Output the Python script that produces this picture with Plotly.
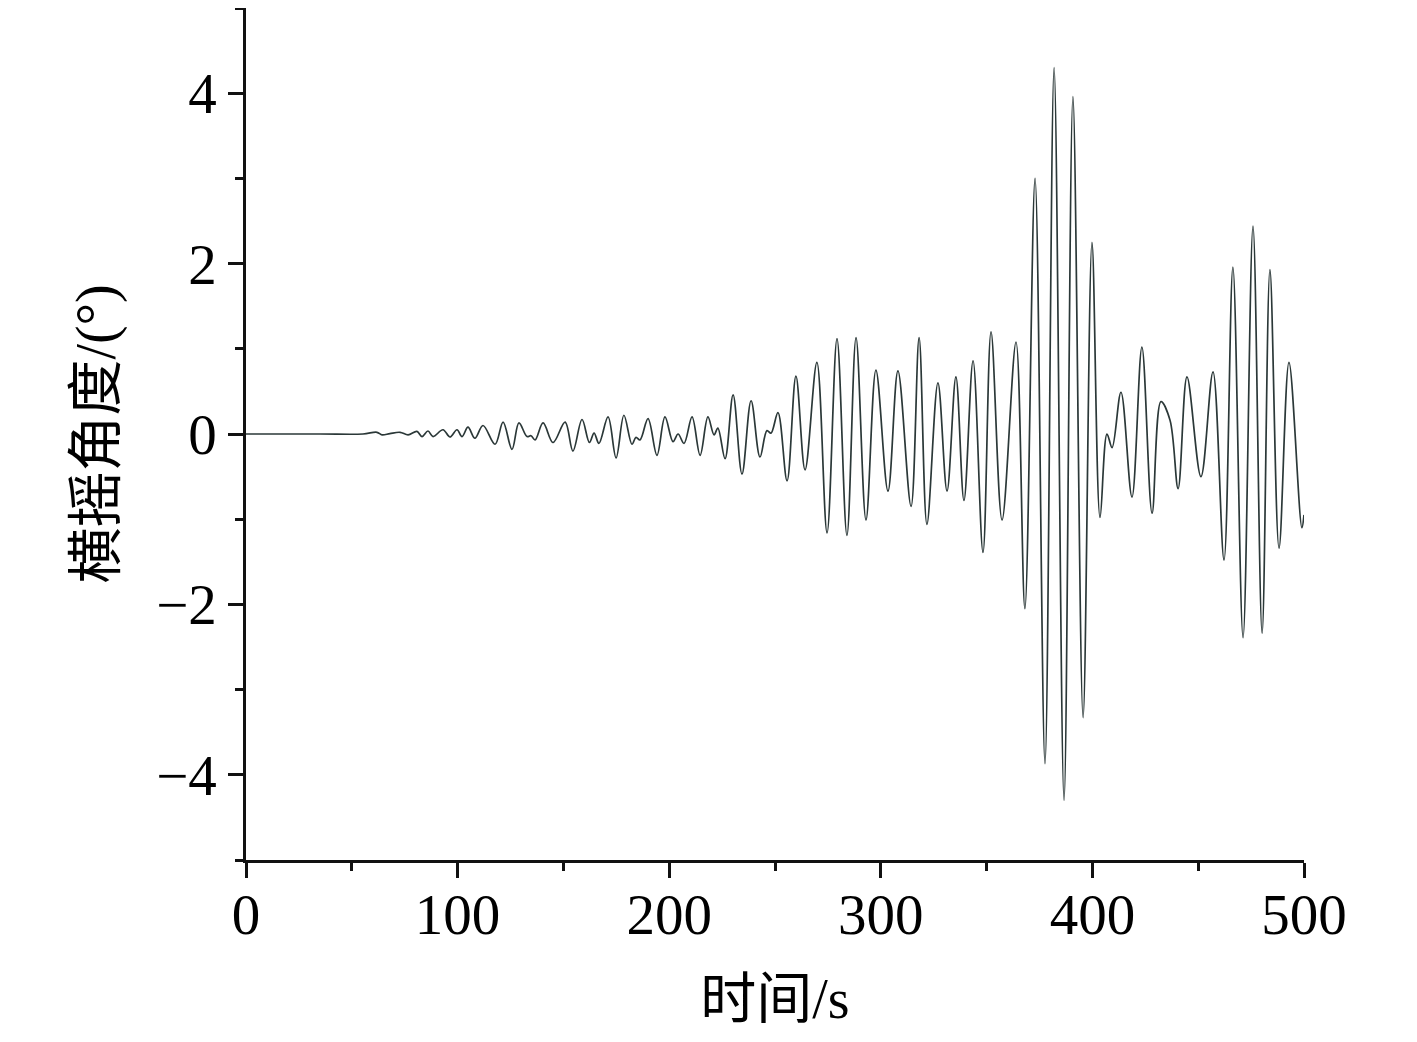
import plotly.graph_objects as go

# extrema of the roll-angle record
time_s = [
    0, 35, 55.3, 61.9, 64.3, 68, 72.8, 76.6, 80.8, 83.2, 86, 88.4, 93.1, 96.4,
    99.7, 102.1, 104.9, 108.2, 112, 117.7, 121.5, 125.7, 129, 132.8, 134.7,
    136.6, 140.4, 145.1, 150.8, 154.5, 158.8, 162.3, 164.5, 166.8, 171.1,
    174.9, 178.6, 182.4, 184.3, 186.2, 190, 194.2, 198, 201.8, 204.2, 207,
    210.8, 214.6, 218.3, 221.2, 223, 226.4, 230.2, 234.4, 238.7, 242.9,
    246.2, 248.1, 251.4, 255.7, 259.9, 264.2, 269.8, 274.6, 279.3, 284,
    288.3, 293, 297.7, 303.4, 308.1, 314.3, 318.1, 321.8, 327, 331.3, 335.5,
    339.3, 343.6, 348.3, 352.1, 357.3, 363.9, 368.1, 372.9, 377.6, 381.9,
    386.6, 390.8, 395.6, 399.8, 403.6, 406.9, 409.3, 413.5, 418.7, 423.4,
    428.2, 432.4, 436.7, 440.5, 444.7, 451.3, 457, 462.2, 466.4, 471.2,
    475.9, 480.2, 483.9, 488.2, 492.9, 499, 500,
]
roll_deg = [
    0, 0, 0, 0.02, -0.01, 0.005, 0.02, -0.01, 0.03, -0.03, 0.035, -0.03, 0.05,
    -0.035, 0.05, -0.03, 0.08, -0.05, 0.1, -0.12, 0.14, -0.18, 0.13, -0.03,
    -0.02, -0.07, 0.13, -0.1, 0.14, -0.2, 0.17, -0.1, 0.01, -0.11, 0.2,
    -0.28, 0.22, -0.12, -0.04, -0.07, 0.18, -0.25, 0.2, -0.09, 0.0, -0.11,
    0.2, -0.25, 0.2, -0.01, 0.07, -0.29, 0.46, -0.47, 0.39, -0.27,
    0.04, 0.01, 0.25, -0.55, 0.68, -0.42, 0.84, -1.16, 1.12, -1.19,
    1.13, -1.01, 0.75, -0.67, 0.74, -0.85, 1.13, -1.06, 0.6, -0.67, 0.67,
    -0.78, 0.86, -1.39, 1.2, -1.01, 1.08, -2.05, 3.0, -3.87, 4.3,
    -4.3, 3.96, -3.33, 2.25, -0.98, 0.0, -0.16, 0.49, -0.74, 1.02,
    -0.93, 0.38, 0.16, -0.64, 0.67, -0.5, 0.73, -1.48, 1.96, -2.39,
    2.44, -2.34, 1.93, -1.34, 0.84, -1.1, -0.95,
]

font_family = "Liberation Serif, Times New Roman, Noto Sans CJK SC"
axis_color = "#111111"

fig = go.Figure()
fig.add_trace(go.Scatter(
    x=time_s,
    y=roll_deg,
    mode="lines",
    line=dict(color="#2b3838", width=1.7, shape="spline", smoothing=1.0),
    showlegend=False,
))

fig.update_layout(
    width=1409,
    height=1034,
    margin=dict(l=238, r=113, t=0, b=182),
    paper_bgcolor="white",
    plot_bgcolor="white",
    font=dict(family=font_family, size=57, color="#000000"),
)

fig.update_xaxes(
    range=[0, 500],
    dtick=100,
    showgrid=False,
    zeroline=False,
    showline=True,
    linecolor=axis_color,
    linewidth=2.5,
    ticks="outside",
    ticklen=15,
    tickwidth=2.5,
    tickcolor=axis_color,
    ticklabelstandoff=-12,
    minor=dict(dtick=50, ticks="outside", ticklen=8, tickwidth=2.5, tickcolor=axis_color),
    title=dict(text="时间/s", font=dict(size=56), standoff=34),
)

fig.update_yaxes(
    range=[-5, 5],
    dtick=2,
    showgrid=False,
    zeroline=False,
    showline=True,
    linecolor=axis_color,
    linewidth=2.5,
    ticks="outside",
    ticklen=15,
    tickwidth=2.5,
    tickcolor=axis_color,
    minor=dict(dtick=1, ticks="outside", ticklen=8, tickwidth=2.5, tickcolor=axis_color),
    title=dict(text="横摇角度/(°)", font=dict(size=56), standoff=23),
)

fig.write_html("out.html")
